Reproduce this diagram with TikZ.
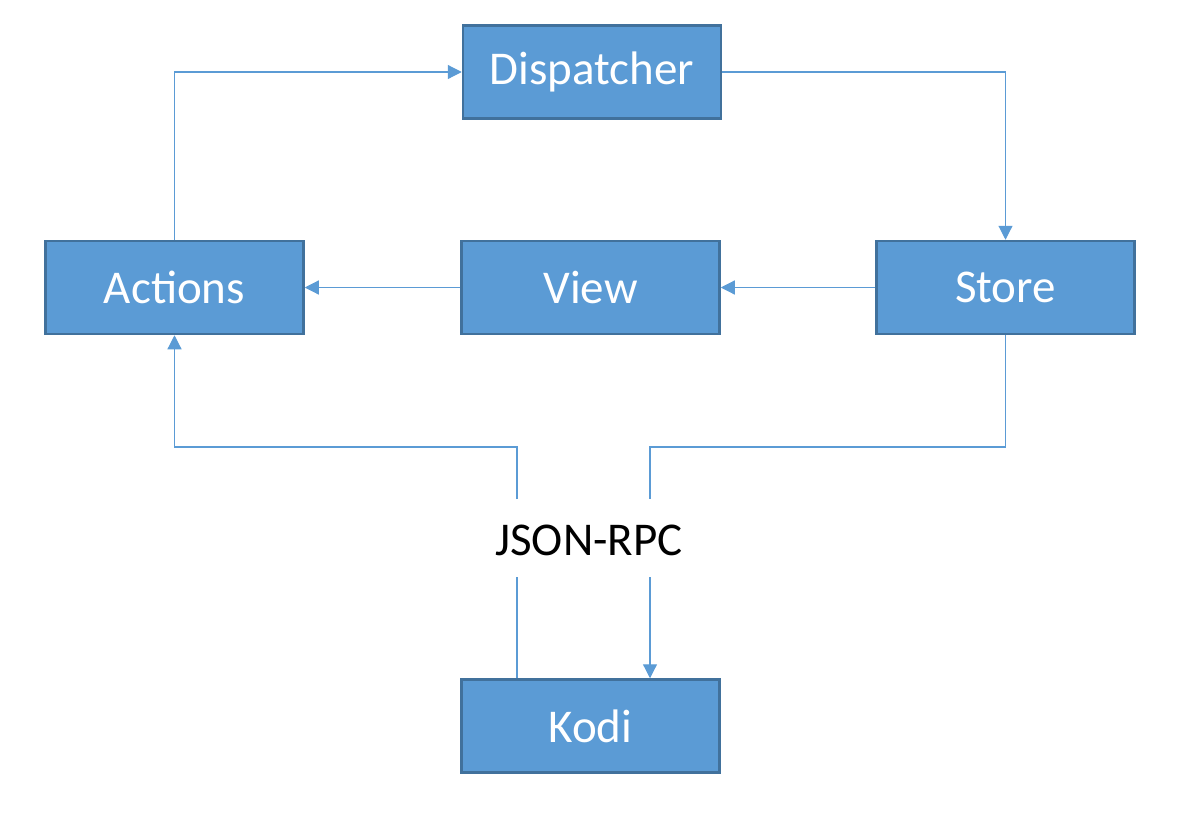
\documentclass[tikz,border=0pt]{standalone}
\usepackage{fontspec}
\setmainfont{Carlito}
\usetikzlibrary{arrows.meta}
\definecolor{boxfill}{HTML}{5B9BD5}
\definecolor{boxline}{HTML}{41719C}

\begin{document}
\begin{tikzpicture}[x=1pt,y=-1pt,
    comp/.style={draw=boxline,fill=boxfill,line width=2.5pt,minimum width=258pt,minimum height=93pt,inner sep=0pt,text=white,font=\fontsize{47}{56}\selectfont},
    link/.style={draw=boxfill,line width=1.2pt},
    tip/.style={-{Triangle[length=14pt,width=14pt]}}]
        \useasboundingbox (0,0) rectangle (1202,814);

        \node[comp] (disp) at (592, 72) {Dispatcher};
        \node[comp] (act) at (174.5, 287.5) {Actions};
        \node[comp] (view) at (590.5, 287.5) {View};
        \node[comp] (store) at (1005.5, 287.5) {Store};
        \node[comp] (kodi) at (590.5, 726) {Kodi};
        \node[font=\fontsize{47}{56}\selectfont] (rpc) at (589, 540) {JSON-RPC};

        \coordinate (bendL) at (517, 447);
        \coordinate (gapL) at (517, 499);
        \coordinate (gapLb) at (517, 577);
        \coordinate (bendR) at (650, 447);
        \coordinate (gapR) at (650, 499);
        \coordinate (gapRb) at (650, 577);

        \draw[link,tip] (act.north) |- (disp.west);
        \draw[link,tip] (disp.east) -| (store.north);
        \draw[link,tip] (store.west) -- (view.east);
        \draw[link,tip] (view.west) -- (act.east);

        \draw[link] (kodi.north -| gapLb) -- (gapLb);
        \draw[link,tip] (gapL) -- (bendL) -| (act.south);
        \draw[link] (store.south) |- (bendR) -- (gapR);
        \draw[link,tip] (gapRb) -- (kodi.north -| gapRb);
\end{tikzpicture}
\end{document}
